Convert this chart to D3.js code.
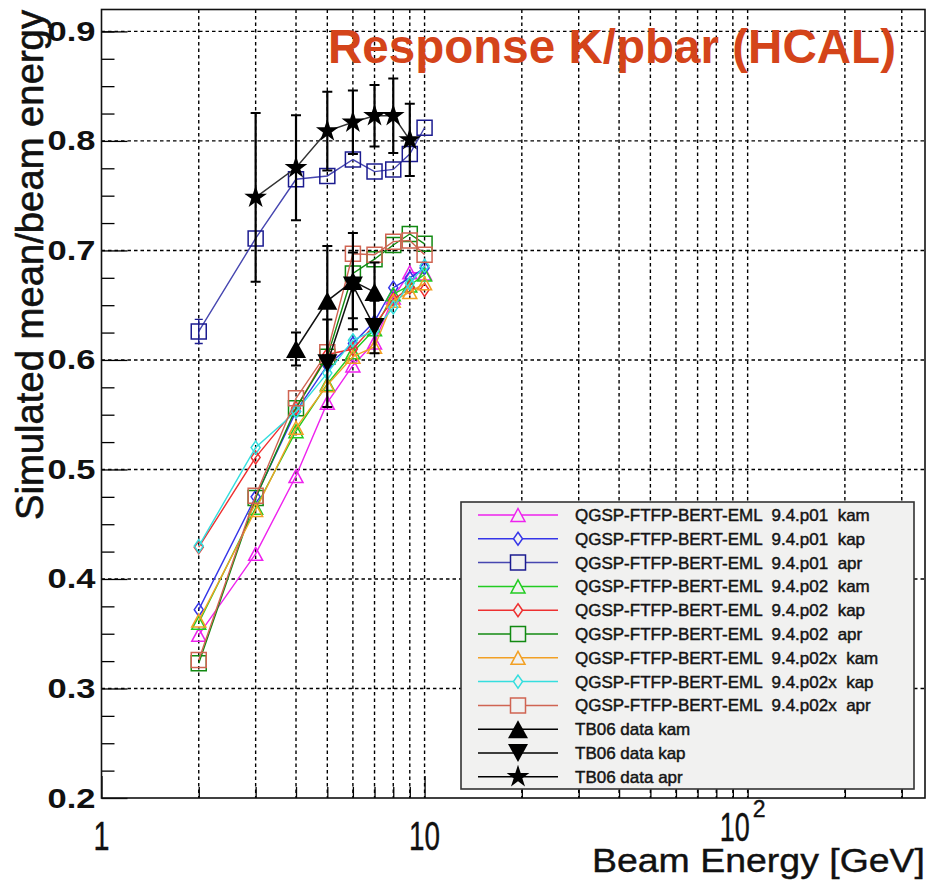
<!DOCTYPE html>
<html>
<head>
<meta charset="utf-8">
<script src="https://cdn.jsdelivr.net/npm/d3@7"></script>
<style>
  body { margin: 0; background: #fff; }
  svg { display: block; }
  text { font-family: "Liberation Sans", Arial, Helvetica, sans-serif; }
</style>
</head>
<body>
<svg id="chart" width="928" height="880"></svg>
<script>
// ---- data -------------------------------------------------------------
const energies = [2, 3, 4, 5, 6, 7, 8, 9, 10];

const p01Kam  = [0.349, 0.423, 0.494, 0.561, 0.595, 0.616, 0.657, 0.680, 0.679];
const p01Kap  = [0.372, 0.475, 0.553, 0.595, 0.615, 0.635, 0.666, 0.675, 0.684];
const p01Apr  = [0.626, 0.711, 0.765, 0.768, 0.783, 0.772, 0.774, 0.788, 0.812];
const p01AprErr = [0.011, 0.004, 0.004, 0.004, 0.004, 0.004, 0.004, 0.004, 0.004];
const p02Kam  = [0.360, 0.465, 0.535, 0.578, 0.607, 0.628, 0.660, 0.668, 0.678];
const p02Kap  = [0.429, 0.511, 0.556, 0.605, 0.610, 0.632, 0.655, 0.666, 0.664];
const p02Apr  = [0.323, 0.474, 0.556, 0.603, 0.679, 0.692, 0.705, 0.715, 0.706];
const p02xKam = [0.362, 0.463, 0.538, 0.577, 0.603, 0.612, 0.654, 0.662, 0.670];
const p02xKap = [0.430, 0.520, 0.553, 0.588, 0.618, 0.627, 0.648, 0.670, 0.686];
const p02xApr = [0.326, 0.476, 0.565, 0.607, 0.697, 0.696, 0.708, 0.709, 0.696];

// TB06 test-beam measurements
const tbKamE   = [4, 5, 6, 7];
const tbKam    = [0.610, 0.654, 0.672, 0.662];
const tbKamErr = [0.015, 0.050, 0.044, 0.027];
const tbKapE   = [5, 6, 7];
const tbKap    = [0.597, 0.668, 0.630];
const tbKapErr = [0.040, 0.030, 0.024];
const tbAprE   = [3, 4, 5, 6, 7, 8, 9];
const tbApr    = [0.7485, 0.7755, 0.809, 0.817, 0.823, 0.823, 0.801];
const tbAprErr = [0.077, 0.048, 0.036, 0.029, 0.028, 0.034, 0.033];

const seriesLabels = [
  "QGSP-FTFP-BERT-EML  9.4.p01  kam",
  "QGSP-FTFP-BERT-EML  9.4.p01  kap",
  "QGSP-FTFP-BERT-EML  9.4.p01  apr",
  "QGSP-FTFP-BERT-EML  9.4.p02  kam",
  "QGSP-FTFP-BERT-EML  9.4.p02  kap",
  "QGSP-FTFP-BERT-EML  9.4.p02  apr",
  "QGSP-FTFP-BERT-EML  9.4.p02x  kam",
  "QGSP-FTFP-BERT-EML  9.4.p02x  kap",
  "QGSP-FTFP-BERT-EML  9.4.p02x  apr",
  "TB06 data kam",
  "TB06 data kap",
  "TB06 data apr"
];

const yTickValues = [0.2, 0.3, 0.4, 0.5, 0.6, 0.7, 0.8, 0.9];
const yTickLabels = ["0.2", "0.3", "0.4", "0.5", "0.6", "0.7", "0.8", "0.9"];
const yMinorTicks = [0.225, 0.25, 0.275, 0.325, 0.35, 0.375, 0.425, 0.45, 0.475,
                     0.525, 0.55, 0.575, 0.625, 0.65, 0.675, 0.725, 0.75, 0.775,
                     0.825, 0.85, 0.875, 0.9];
const xMajorTicks = [1, 10, 100];
const xMinorTicks = [2, 3, 4, 5, 6, 7, 8, 9, 20, 30, 40, 50, 60, 70, 80, 90, 200, 300];

const titleText = "Response K/pbar (HCAL)";
const xTitle = "Beam Energy [GeV]";
const yTitle = "Simulated mean/beam energy";

// ---- styles -----------------------------------------------------------
const simStyles = [
  { color: "#ee22ee", marker: "tri" },
  { color: "#3535e8", marker: "diamond" },
  { color: "#1c1c90", marker: "square", line: "#4646b0" },
  { color: "#22cc22", marker: "tri" },
  { color: "#ee3030", marker: "diamond" },
  { color: "#128a12", marker: "square" },
  { color: "#f2a024", marker: "tri" },
  { color: "#35dede", marker: "diamond" },
  { color: "#d06452", marker: "square" }
];
const simValues = [p01Kam, p01Kap, p01Apr, p02Kam, p02Kap, p02Apr, p02xKam, p02xKap, p02xApr];
const simErrors = [null, null, p01AprErr, null, null, null, null, null, null];

const sims = simValues.map((vals, i) => ({
  label: seriesLabels[i],
  style: simStyles[i],
  points: energies.map((e, j) => ({ e, v: vals[j], err: simErrors[i] ? simErrors[i][j] : 0 }))
}));

const tbData = [
  { label: seriesLabels[9],  marker: "fillUp",   E: tbKamE, V: tbKam, Err: tbKamErr },
  { label: seriesLabels[10], marker: "fillDown", E: tbKapE, V: tbKap, Err: tbKapErr },
  { label: seriesLabels[11], marker: "star",     E: tbAprE, V: tbApr, Err: tbAprErr }
].map(s => ({
  label: s.label, marker: s.marker,
  points: s.E.map((e, j) => ({ e, v: s.V[j], err: s.Err[j] }))
}));

// marker outlines (relative to the marker centre)
const markerPath = {
  tri:      "M0,-6.5L7,6.5L-7,6.5Z",
  diamond:  "M0,-6.5L4.5,0L0,6.5L-4.5,0Z",
  square:   "M-7.5,-7.5H7.5V7.5H-7.5Z",
  fillUp:   "M0,-9L10,9L-10,9Z",
  fillDown: "M0,9L10,-9L-10,-9Z",
  star:     d3.symbol(d3.symbolStar, 160)()
};

// ---- layout -----------------------------------------------------------
const svg = d3.select("#chart");
const frame = { left: 101.5, right: 925, top: 9.5, bottom: 798 };

const x = d3.scaleLog().domain([1, 354]).range([frame.left, frame.right]);
const y = d3.scaleLinear().domain([0.2, 0.92]).range([frame.bottom, frame.top]);

// grid
const grid = svg.append("g").attr("stroke", "#000").attr("stroke-width", 1.4)
  .attr("stroke-dasharray", "3.5,3");
grid.selectAll("line.gx").data(xMajorTicks.concat(xMinorTicks).filter(d => d > 1))
  .join("line").attr("class", "gx")
  .attr("x1", d => x(d)).attr("x2", d => x(d))
  .attr("y1", frame.top).attr("y2", frame.bottom);
grid.selectAll("line.gy").data(yTickValues.filter(d => d > 0.2))
  .join("line").attr("class", "gy")
  .attr("x1", frame.left).attr("x2", frame.right)
  .attr("y1", d => y(d)).attr("y2", d => y(d));

// axes (ticks pointing into the frame)
const yAxisMajor = d3.axisLeft(y).tickValues(yTickValues)
  .tickFormat((d, i) => yTickLabels[i]).tickSize(-26).tickPadding(6);
const yAxisMinor = d3.axisLeft(y).tickValues(yMinorTicks).tickFormat("").tickSize(-13);
const xAxisMajor = d3.axisBottom(x).tickValues(xMajorTicks).tickFormat("").tickSize(-22);
const xAxisMinor = d3.axisBottom(x).tickValues(xMinorTicks).tickFormat("").tickSize(-11);

const gy = svg.append("g").attr("transform", `translate(${frame.left},0)`).call(yAxisMajor);
svg.append("g").attr("transform", `translate(${frame.left},0)`).call(yAxisMinor);
svg.append("g").attr("transform", `translate(0,${frame.bottom})`).call(xAxisMajor);
svg.append("g").attr("transform", `translate(0,${frame.bottom})`).call(xAxisMinor);
svg.selectAll(".domain").remove();
svg.selectAll(".tick line").attr("stroke", "#000").attr("stroke-width", 1.3);

gy.selectAll(".tick text")
  .attr("font-family", "'Liberation Sans', Arial, sans-serif")
  .attr("font-size", 27).attr("font-weight", "bold").attr("fill", "#111")
  .attr("dy", null).attr("y", 9)
  .attr("textLength", 48).attr("lengthAdjust", "spacingAndGlyphs");

// x tick labels (decades)
const xl = svg.append("g").attr("fill", "#111").attr("font-size", 40)
  .attr("stroke", "#111").attr("stroke-width", 0.4);
xl.append("text").attr("x", x(1)).attr("y", 850).attr("text-anchor", "middle")
  .attr("textLength", 16).attr("lengthAdjust", "spacingAndGlyphs").text("1");
xl.append("text").attr("x", x(10)).attr("y", 850).attr("text-anchor", "middle")
  .attr("textLength", 31).attr("lengthAdjust", "spacingAndGlyphs").text("10");
const dec2 = xl.append("text").attr("x", x(100) - 28).attr("y", 841);
dec2.append("tspan").attr("textLength", 30).attr("lengthAdjust", "spacingAndGlyphs").text("10");
dec2.append("tspan").attr("dx", 3).attr("dy", -24).attr("font-size", 23).text("2");

// frame
svg.append("rect")
  .attr("x", frame.left).attr("y", frame.top)
  .attr("width", frame.right - frame.left).attr("height", frame.bottom - frame.top)
  .attr("fill", "none").attr("stroke", "#111").attr("stroke-width", 1.6);

// ---- simulated series -------------------------------------------------
const line = d3.line().x(d => x(d.e)).y(d => y(d.v));
const plot = svg.append("g");

sims.forEach(s => {
  const g = plot.append("g");
  g.append("path").datum(s.points).attr("d", line)
    .attr("fill", "none").attr("stroke", s.style.line || s.style.color).attr("stroke-width", 1.4);
  g.selectAll("line.err").data(s.points.filter(p => p.err > 0.008)).join("line")
    .attr("stroke", s.style.color).attr("stroke-width", 1.4)
    .attr("x1", d => x(d.e)).attr("x2", d => x(d.e))
    .attr("y1", d => y(d.v + d.err)).attr("y2", d => y(d.v - d.err));
  g.selectAll("path.cap").data(s.points.filter(p => p.err > 0.008)).join("path")
    .attr("stroke", s.style.color).attr("stroke-width", 1.4)
    .attr("d", d => `M${x(d.e) - 4},${y(d.v + d.err)}h8M${x(d.e) - 4},${y(d.v - d.err)}h8`);
  g.selectAll("path.m").data(s.points).join("path")
    .attr("transform", d => `translate(${x(d.e)},${y(d.v)})`)
    .attr("d", markerPath[s.style.marker])
    .attr("fill", "none").attr("stroke", s.style.color).attr("stroke-width", 1.5);
});

// ---- TB06 data --------------------------------------------------------
tbData.forEach(s => {
  const g = plot.append("g");
  g.append("path").datum(s.points).attr("d", line)
    .attr("fill", "none").attr("stroke", s.marker === "star" ? "#333" : "#111")
    .attr("stroke-width", 1.5);
  g.selectAll("line.err").data(s.points).join("line")
    .attr("stroke", "#000").attr("stroke-width", 2.2)
    .attr("x1", d => x(d.e)).attr("x2", d => x(d.e))
    .attr("y1", d => y(d.v + d.err)).attr("y2", d => y(d.v - d.err));
  g.selectAll("path.cap").data(s.points).join("path")
    .attr("stroke", "#000").attr("stroke-width", 2)
    .attr("d", d => `M${x(d.e) - 5},${y(d.v + d.err)}h10M${x(d.e) - 5},${y(d.v - d.err)}h10`);
  g.selectAll("path.m").data(s.points).join("path")
    .attr("transform", d => `translate(${x(d.e)},${y(d.v)})`)
    .attr("d", markerPath[s.marker]).attr("fill", "#000");
});

// ---- legend -----------------------------------------------------------
const leg = { x: 461, y: 502, w: 453, h: 287, row0: 515, step: 23.8 };
const lg = svg.append("g");
lg.append("rect").attr("x", leg.x).attr("y", leg.y).attr("width", leg.w).attr("height", leg.h)
  .attr("fill", "#f1f1f0").attr("stroke", "#333").attr("stroke-width", 1.6);

const legendItems = sims.map(s => ({ label: s.label, color: s.style.color, lineColor: s.style.line || s.style.color, marker: s.style.marker, fill: "none" }))
  .concat(tbData.map(s => ({ label: s.label, color: "#000", lineColor: "#000", marker: s.marker, fill: "#000" })));

const rows = lg.selectAll("g.row").data(legendItems).join("g")
  .attr("transform", (d, i) => `translate(0,${leg.row0 + i * leg.step})`);
rows.append("line").attr("x1", 478).attr("x2", 558).attr("y1", 0).attr("y2", 0)
  .attr("stroke", d => d.lineColor).attr("stroke-width", 1.5);
rows.append("path").attr("transform", "translate(518,0)")
  .attr("d", d => markerPath[d.marker])
  .attr("fill", d => d.fill === "none" ? "#f1f1f0" : d.fill)
  .attr("stroke", d => d.color).attr("stroke-width", d => d.fill === "none" ? 1.5 : 0);
rows.append("text").attr("x", 575).attr("y", 6).attr("font-size", 17).attr("fill", "#141414")
  .attr("stroke", "#141414").attr("stroke-width", 0.45)
  .style("white-space", "pre").text(d => d.label);

// ---- titles -----------------------------------------------------------
svg.append("text").attr("x", 328).attr("y", 63).attr("font-size", 48).attr("font-weight", "bold")
  .attr("fill", "#d4441a").attr("textLength", 568).attr("lengthAdjust", "spacingAndGlyphs")
  .text(titleText);

svg.append("text").attr("x", 925).attr("y", 872).attr("text-anchor", "end")
  .attr("font-size", 34).attr("fill", "#111").attr("stroke", "#111").attr("stroke-width", 0.4)
  .attr("textLength", 333).attr("lengthAdjust", "spacingAndGlyphs").text(xTitle);

svg.append("text").attr("transform", "translate(43,520) rotate(-90)")
  .attr("font-size", 38).attr("fill", "#111").attr("stroke", "#111").attr("stroke-width", 0.6)
  .attr("textLength", 510).attr("lengthAdjust", "spacingAndGlyphs").text(yTitle);
</script>
</body>
</html>
